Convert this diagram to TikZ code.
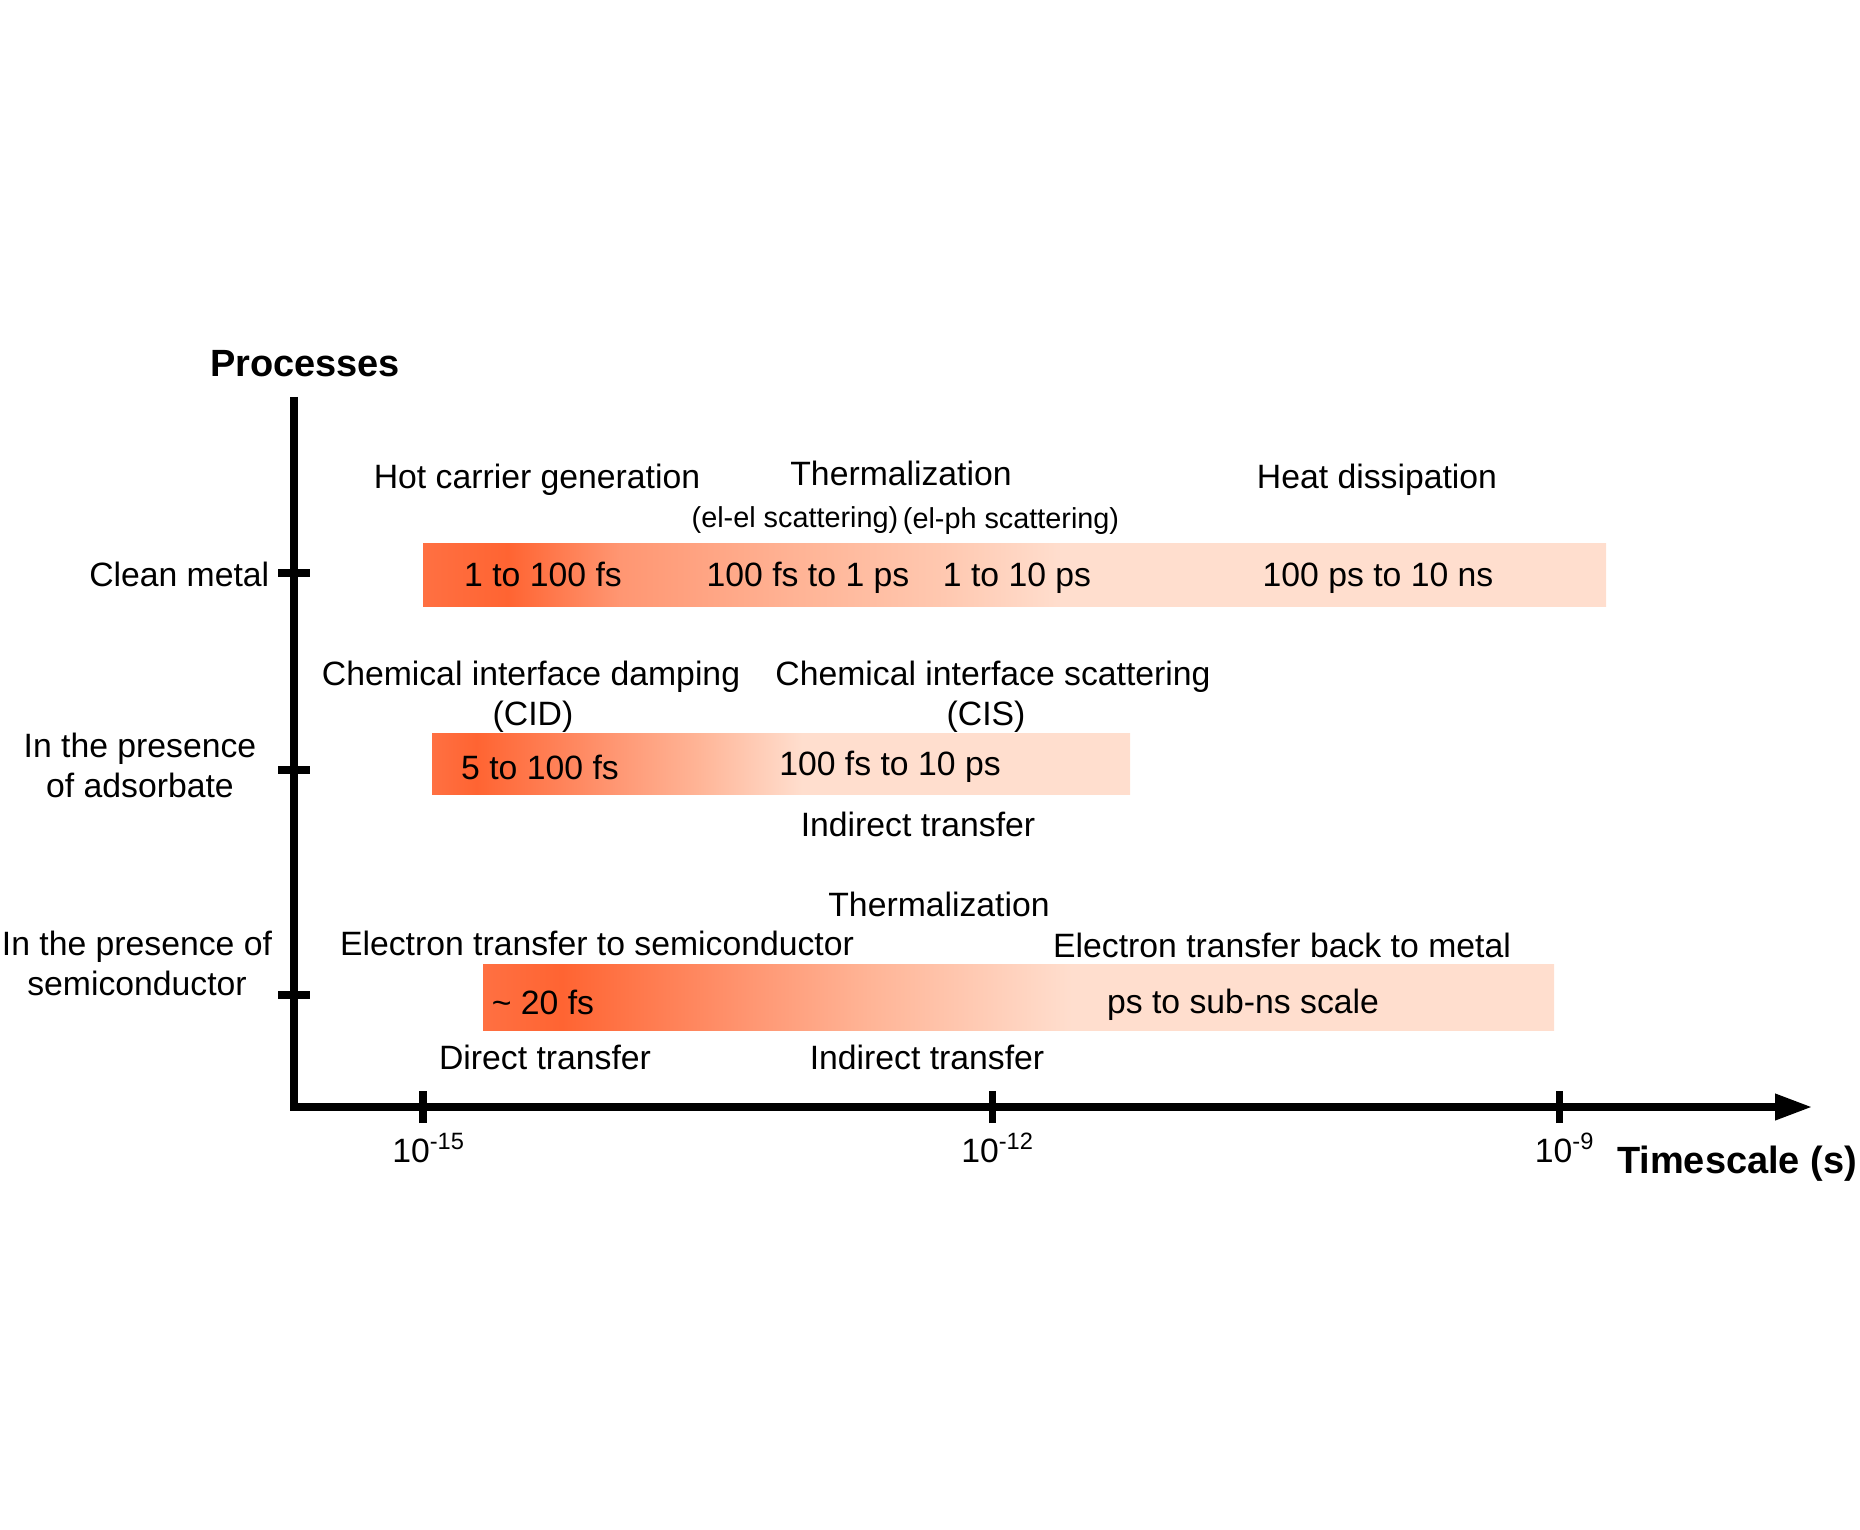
\documentclass[tikz,border=0pt]{standalone}
\usepackage{fontspec}
\setmainfont{Liberation Sans}
\usetikzlibrary{arrows.meta,positioning,calc}

\definecolor{hotA}{RGB}{255,112,66}
\definecolor{hot}{RGB}{255,100,50}
\definecolor{warmA}{RGB}{255,150,114}
\definecolor{warmB}{RGB}{255,180,150}
\definecolor{warmC}{RGB}{255,200,176}
\definecolor{cool}{RGB}{255,222,206}

% fades along each bar (25bp = left edge, 75bp = right edge)
\pgfdeclarehorizontalshading{metalfade}{100bp}{color(0bp)=(hotA); color(25bp)=(hotA);
  color(28.6bp)=(hot); color(33.3bp)=(warmA); color(41bp)=(warmB); color(47bp)=(warmC);
  color(52bp)=(cool); color(100bp)=(cool)}
\pgfdeclarehorizontalshading{adsfade}{100bp}{color(0bp)=(hotA); color(25bp)=(hotA);
  color(28.2bp)=(hot); color(38bp)=(warmA); color(44bp)=(warmB); color(51.5bp)=(cool);
  color(100bp)=(cool)}
\pgfdeclarehorizontalshading{semifade}{100bp}{color(0bp)=(hotA); color(25bp)=(hotA);
  color(28.7bp)=(hot); color(37.5bp)=(warmA); color(43bp)=(warmB); color(52.5bp)=(cool);
  color(100bp)=(cool)}

\tikzset{
  lbl/.style={font=\fontsize{9.6}{11.4}\selectfont, inner sep=0pt, text height=6.9pt, text depth=0pt},
  sublbl/.style={font=\fontsize{8.2}{9.8}\selectfont, inner sep=0pt, text height=5.9pt, text depth=0pt},
  rowlbl/.style={font=\fontsize{9.6}{11.4}\selectfont, inner sep=0pt, align=center},
  axtitle/.style={font=\fontsize{10.8}{13}\selectfont\bfseries, inner sep=0pt, text height=7.8pt, text depth=0pt},
  bar/.style={rectangle, inner sep=0pt, outer sep=0pt, shade},
  axisline/.style={line width=2pt, line join=miter},
  tickmark/.style={line width=2pt},
}

\begin{document}
\begin{tikzpicture}[x=1cm,y=1cm]
\useasboundingbox (0,0) rectangle (18.6,15.29);

% ================= axes =================
\coordinate (ytop) at (2.94,11.32);
\coordinate (orig) at (2.94,4.22);
\coordinate (xend) at (18.12,4.22);
\draw[axisline, -{Triangle[length=3.7mm, width=2.5mm]}] (ytop) -- (orig) -- (xend);

\node[axtitle] (proc) at (3.05,11.66) {Processes};
\node[axtitle] (tscale) at (17.37,3.69) {Timescale (s)};

\foreach \x/\e/\n in {4.23/-15/fs, 9.92/-12/ps, 15.59/-9/ns} {
  \draw[tickmark] (\x,4.06) -- (\x,4.38);
  \node[lbl] (t\n) at (\x+0.06,3.79) {10\textsuperscript{\e}};
}
\foreach \y in {9.56, 7.59, 5.34} {\draw[tickmark] (2.78,\y) -- (3.10,\y);}

% ================= row labels =================
\node[lbl, anchor=east] (clean) at (2.70,9.55) {Clean metal};
\node[rowlbl] (ads) at (1.40,7.64) {In the presence\\of adsorbate};
\node[rowlbl] (semi) at (1.37,5.66) {In the presence of\\semiconductor};

% ================= clean metal =================
\node[bar, shading=metalfade, minimum width=11.83cm, minimum height=0.63cm, anchor=west] (metalbar) at (4.23,9.545) {};
\node[lbl] (hcg) at (5.37,10.53) {Hot carrier generation};
\node[lbl] (therm1) at (9.01,10.56) {Thermalization};
\node[sublbl] (elel) at (7.95,10.12) {(el-el scattering)};
\node[sublbl] (elph) at (10.11,10.11) {(el-ph scattering)};
\node[lbl] (heat) at (13.77,10.53) {Heat dissipation};
\node[lbl] (m1) at (5.43,9.55) {1 to 100 fs};
\node[lbl] (m2) at (8.08,9.55) {100 fs to 1 ps};
\node[lbl] (m3) at (10.17,9.55) {1 to 10 ps};
\node[lbl] (m4) at (13.78,9.55) {100 ps to 10 ns};

% ================= adsorbate =================
\node[bar, shading=adsfade, minimum width=6.98cm, minimum height=0.61cm, anchor=west] (adsbar) at (4.32,7.655) {};
\node[lbl] (cid) at (5.31,8.56) {Chemical interface damping};
\node[lbl] (cidab) at (5.33,8.16) {(CID)};
\node[lbl] (cis) at (9.93,8.56) {Chemical interface scattering};
\node[lbl] (cisab) at (9.86,8.16) {(CIS)};
\node[lbl] (a1) at (5.40,7.62) {5 to 100 fs};
\node[lbl] (a2) at (8.90,7.66) {100 fs to 10 ps};
\node[lbl] (indir1) at (9.18,7.05) {Indirect transfer};

% ================= semiconductor =================
\node[bar, shading=semifade, minimum width=10.71cm, minimum height=0.66cm, anchor=west] (semibar) at (4.83,5.32) {};
\node[lbl] (therm2) at (9.39,6.25) {Thermalization};
\node[lbl] (etos) at (5.97,5.86) {Electron transfer to semiconductor};
\node[lbl] (etom) at (12.82,5.84) {Electron transfer back to metal};
\node[lbl] (s1) at (5.43,5.27) {\textasciitilde{} 20 fs};
\node[lbl] (s2) at (12.43,5.28) {ps to sub-ns scale};
\node[lbl] (direct) at (5.45,4.72) {Direct transfer};
\node[lbl] (indir2) at (9.27,4.72) {Indirect transfer};

\end{tikzpicture}
\end{document}
